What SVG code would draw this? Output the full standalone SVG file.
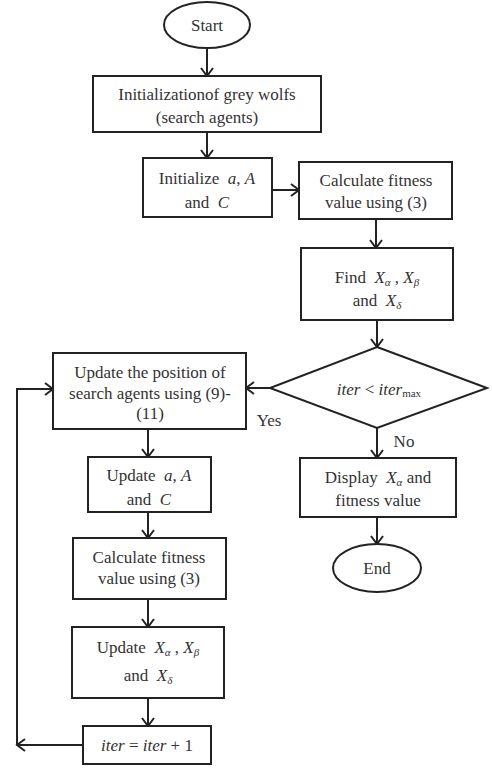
<svg xmlns="http://www.w3.org/2000/svg" width="492" height="776" viewBox="0 0 492 776">
<defs>
<style>
.n{fill:#fff;stroke:#222;stroke-width:2}
.t{font-family:"Liberation Serif","Times New Roman",serif;font-size:17px;fill:#333;text-anchor:middle;dominant-baseline:central}
.i{font-style:italic}
.s{font-size:11px;font-style:italic}
.c{fill:none;stroke:#222;stroke-width:2}
</style>
<marker id="ah" markerUnits="userSpaceOnUse" markerWidth="12" markerHeight="14" refX="10" refY="7" orient="auto">
<path d="M2,1 L10,7 L2,13" fill="none" stroke="#222" stroke-width="2"/>
</marker>
</defs>
<rect width="492" height="776" fill="#fff"/>
<g id="connectors">
<line class="c" x1="207" y1="48" x2="207" y2="76" marker-end="url(#ah)"/>
<line class="c" x1="207" y1="132" x2="207" y2="158" marker-end="url(#ah)"/>
<line class="c" x1="272" y1="190" x2="299" y2="190" marker-end="url(#ah)"/>
<line class="c" x1="376" y1="219" x2="376" y2="248" marker-end="url(#ah)"/>
<line class="c" x1="377" y1="320" x2="377" y2="347" marker-end="url(#ah)"/>
<line class="c" x1="377" y1="428" x2="377" y2="458" marker-end="url(#ah)"/>
<line class="c" x1="377" y1="517" x2="377" y2="544" marker-end="url(#ah)"/>
<line class="c" x1="270" y1="388" x2="246" y2="388" marker-end="url(#ah)"/>
<line class="c" x1="148" y1="429" x2="148" y2="457" marker-end="url(#ah)"/>
<line class="c" x1="148" y1="512" x2="148" y2="538" marker-end="url(#ah)"/>
<line class="c" x1="148" y1="599" x2="148" y2="627" marker-end="url(#ah)"/>
<line class="c" x1="148" y1="698" x2="148" y2="726" marker-end="url(#ah)"/>
<line class="c" x1="83" y1="745" x2="17" y2="745" marker-end="url(#ah)"/>
<polyline class="c" points="17,745 17,389 53,389" marker-end="url(#ah)"/>
<text class="t" x="404" y="441">No</text>
<text class="t" x="269" y="420">Yes</text>
</g>
<g id="start">
<ellipse class="n" cx="207" cy="25" rx="43" ry="23"/>
<text class="t" x="207" y="25">Start</text>
</g>
<g id="init-wolves">
<rect class="n" x="93" y="76" width="228" height="56"/>
<text class="t" x="207" y="94">Initializationof grey wolfs</text>
<text class="t" x="207" y="117">(search agents)</text>
</g>
<g id="init-params">
<rect class="n" x="143" y="158" width="129" height="59"/>
<text class="t" x="207" y="178">Initialize&#160; <tspan class="i">a</tspan>, <tspan class="i">A</tspan></text>
<text class="t" x="207" y="202">and&#160; <tspan class="i">C</tspan></text>
</g>
<g id="calc-fitness-1">
<rect class="n" x="299" y="162" width="153" height="57"/>
<text class="t" x="376" y="180">Calculate fitness</text>
<text class="t" x="376" y="202">value using (3)</text>
</g>
<g id="find-x">
<rect class="n" x="301" y="248" width="152" height="72"/>
<text class="t" x="377" y="277">Find&#160; <tspan class="i">X</tspan><tspan class="s" dy="5">α</tspan><tspan dy="-5"> , </tspan><tspan class="i">X</tspan><tspan class="s" dy="5">β</tspan></text>
<text class="t" x="377" y="300">and&#160; <tspan class="i">X</tspan><tspan class="s" dy="5">δ</tspan></text>
</g>
<g id="decision">
<polygon class="n" points="377,347 487,388 377,428 270,388"/>
<text class="t" x="379" y="389"><tspan class="i">iter</tspan> &lt; <tspan class="i">iter</tspan><tspan font-size="11" dy="4">max</tspan></text>
</g>
<g id="display">
<rect class="n" x="300" y="458" width="156" height="59"/>
<text class="t" x="378" y="477">Display&#160; <tspan class="i">X</tspan><tspan class="s" dy="5">α</tspan><tspan dy="-5"> and</tspan></text>
<text class="t" x="378" y="500">fitness value</text>
</g>
<g id="end">
<ellipse class="n" cx="377" cy="568" rx="44" ry="24"/>
<text class="t" x="377" y="568">End</text>
</g>
<g id="update-position">
<rect class="n" x="53" y="353" width="193" height="76"/>
<text class="t" x="150" y="372">Update the position of</text>
<text class="t" x="150" y="393">search agents using (9)-</text>
<text class="t" x="150" y="413">(11)</text>
</g>
<g id="update-params">
<rect class="n" x="88" y="457" width="123" height="55"/>
<text class="t" x="149" y="475">Update&#160; <tspan class="i">a</tspan>, <tspan class="i">A</tspan></text>
<text class="t" x="149" y="499">and&#160; <tspan class="i">C</tspan></text>
</g>
<g id="calc-fitness-2">
<rect class="n" x="73" y="538" width="153" height="61"/>
<text class="t" x="149" y="557">Calculate fitness</text>
<text class="t" x="149" y="578">value using (3)</text>
</g>
<g id="update-x">
<rect class="n" x="72" y="627" width="152" height="71"/>
<text class="t" x="148" y="647">Update&#160; <tspan class="i">X</tspan><tspan class="s" dy="5">α</tspan><tspan dy="-5"> , </tspan><tspan class="i">X</tspan><tspan class="s" dy="5">β</tspan></text>
<text class="t" x="148" y="675">and&#160; <tspan class="i">X</tspan><tspan class="s" dy="5">δ</tspan></text>
</g>
<g id="iter-inc">
<rect class="n" x="83" y="726" width="128" height="38"/>
<text class="t" x="147" y="745"><tspan class="i">iter</tspan> = <tspan class="i">iter</tspan> + 1</text>
</g>
</svg>
